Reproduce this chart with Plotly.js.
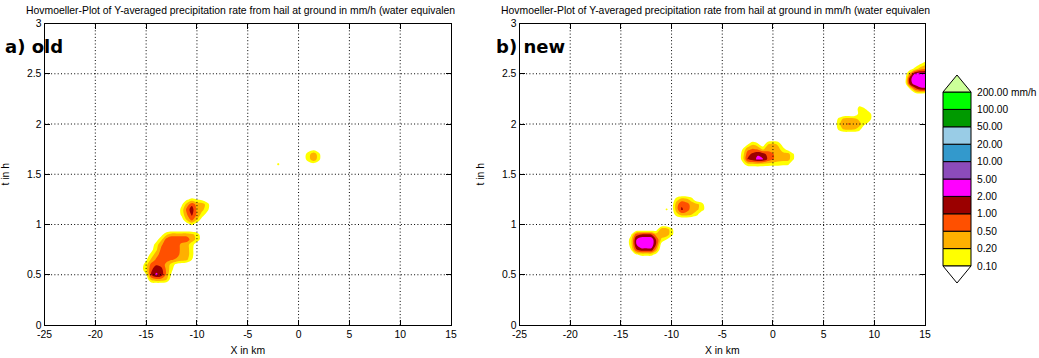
<!DOCTYPE html>
<html><head><meta charset="utf-8">
<script src="https://cdn.plot.ly/plotly-3.0.1.min.js"></script>
<style>html,body{margin:0;padding:0;background:#fff;}#chart{width:1039px;height:358px;}</style>
</head><body><div id="chart"></div>
<script>
// ---------- data ----------
const LEVELS = [0.1, 0.2, 0.5, 1, 2, 5, 10, 20, 50, 100, 200];           // mm/h contour levels
const LEVEL_LABELS = ['0.10','0.20','0.50','1.00','2.00','5.00','10.00','20.00','50.00','100.00','200.00 mm/h'];
const BAND_COLORS = ['#FFFF00','#FFB000','#FF5000','#9B0000','#FF00FF','#8C4BBB','#3399CC','#99CCE6','#009900','#00FF00'];
const UNDER_COLOR = '#FFFFFF';
const OVER_COLOR = '#CCFF99';
const X_TICKS = [-25, -20, -15, -10, -5, 0, 5, 10, 15];
const T_TICKS = [0, 0.5, 1, 1.5, 2, 2.5, 3];
const T_TICK_LABELS = ['0', '0.5', '1', '1.5', '2', '2.5', '3'];
const TITLE_TEXT = 'Hovmoeller-Plot of Y-averaged precipitation rate from hail at ground in mm/h (water equivalen';
const PANEL_LABELS = ['a) old', 'b) new'];

// sparse rows of Y-averaged hail rate (mm/h): time t (h), first x (km), values every 0.5 km
const oldRowT = [1.25, 1.20, 1.15, 1.10, 1.05, 1.00,
  0.90, 0.85, 0.80, 0.75, 0.70, 0.65, 0.60, 0.55, 0.50, 0.45,
  1.75, 1.70, 1.65, 1.60, 1.60];
const oldRowX0 = [-11, -11.5, -11.5, -11.5, -11.5, -11,
  -13.5, -14, -14.5, -14.5, -15, -15, -15.5, -15.5, -15, -14.5,
  1, 0.5, 0.5, 1, -2];
const oldRowVals = [
  [0.08, 0.123, 0.10, 0.07],
  [0.08, 0.289, 0.812, 0.347, 0.316, 0.152],
  [0.132, 0.616, 1.52, 0.38, 0.263, 0.132],
  [0.123, 0.456, 1.15, 0.416, 0.152, 0.05],
  [0.05, 0.24, 0.66, 0.2, 0.05],
  [0.03, 0.115, 0.04],
  [0.06, 0.174, 0.347, 0.347, 0.347, 0.347, 0.263, 0.152, 0.03],
  [0.05, 0.174, 0.66, 0.812, 0.812, 0.812, 0.758, 0.316, 0.162, 0.04],
  [0.03, 0.141, 0.416, 0.812, 0.812, 0.758, 0.38, 0.289, 0.141, 0.03],
  [0.06, 0.174, 0.616, 0.812, 0.812, 0.707, 0.38, 0.316, 0.132],
  [0.03, 0.132, 0.347, 0.707, 0.812, 0.812, 0.66, 0.347, 0.316, 0.132],
  [0.08, 0.24, 0.574, 0.66, 0.616, 0.536, 0.416, 0.316, 0.24, 0.10],
  [0.04, 0.152, 0.66, 0.933, 0.758, 0.38, 0.152, 0.06, 0.03],
  [0.05, 0.162, 0.871, 1.62, 1.32, 0.416, 0.123],
  [0.09, 1.0, 2.40, 1.52, 0.38, 0.08],
  [0.24, 0.347, 0.316, 0.2, 0.03],
  [0.04, 0.05, 0.03],
  [0.05, 0.152, 0.416, 0.123],
  [0.05, 0.152, 0.416, 0.123],
  [0.04, 0.05, 0.03],
  [0.123]
];

const newRowT = [0.95, 0.90, 0.85, 0.80, 0.75, 0.70,
  1.25, 1.20, 1.15, 1.10,
  1.80, 1.75, 1.70, 1.65, 1.60,
  2.20, 2.15, 2.10, 2.05, 2.00, 1.95,
  2.60, 2.55, 2.50, 2.45, 2.40, 2.35, 2.30];
const newRowX0 = [-11.5, -14, -14, -14, -14, -13.5,
  -9.5, -10, -10.5, -9.5,
  -2.5, -3, -3, -3, -3,
  8.5, 8.5, 8.5, 6.5, 6.5, 6.5,
  14.5, 13.5, 13.5, 13.5, 13.5, 13.5, 14];
const newRowVals = [
  [0.05, 0.347, 0.347, 0.132],
  [0.08, 0.707, 1.0, 1.15, 1.0, 0.316, 0.347, 0.347, 0.132],
  [0.152, 1.87, 4.16, 4.16, 4.16, 0.871, 0.174, 0.10],
  [0.152, 1.87, 4.16, 4.16, 4.16, 0.871, 0.05],
  [0.10, 0.871, 1.62, 1.62, 1.62, 0.316],
  [0.08, 0.123, 0.123, 0.123, 0.05],
  [0.152, 0.316, 0.263, 0.141],
  [0.03, 0.347, 0.871, 0.66, 0.347, 0.263, 0.141],
  [0.115, 0.03, 0.347, 1.15, 0.66, 0.347, 0.24, 0.141, 0.03],
  [0.152, 0.316, 0.316, 0.2, 0.123],
  [0.08, 0.174, 0.115, 0.02, 0.187, 0.263, 0.174, 0.03],
  [0.10, 0.38, 0.536, 0.456, 0.174, 0.347, 0.347, 0.289, 0.132, 0.05],
  [0.132, 0.758, 1.23, 1.87, 1.62, 0.707, 0.536, 0.316, 0.289, 0.289, 0.111],
  [0.132, 1.07, 1.52, 2.40, 2.09, 0.871, 0.536, 0.316, 0.289, 0.289, 0.111],
  [0.06, 0.152, 0.162, 0.174, 0.162, 0.152, 0.141, 0.132, 0.123, 0.115],
  [0.06],
  [0.132, 0.115, 0.04],
  [0.123, 0.141, 0.132, 0.03],
  [0.123, 0.263, 0.316, 0.263, 0.174, 0.141, 0.132, 0.03],
  [0.162, 0.416, 0.536, 0.38, 0.289, 0.123, 0.06],
  [0.123, 0.24, 0.263, 0.24, 0.152],
  [0.08, 0.152],
  [0.03, 0.123, 0.289, 0.416],
  [0.316, 2.19, 3.47, 3.47],
  [1.62, 3.47, 4.56, 4.56],
  [1.32, 3.16, 4.16, 4.16],
  [0.10, 0.707, 1.52, 1.74],
  [0.03, 0.08, 0.04]
];

// ---------- helpers ----------
const W = 1039, H = 358;
const px = v => v / W;
const py = v => 1 - v / H;
const GRID_DX = 0.5, GRID_DT = 0.05, X_MIN = -25, X_MAX = 15, T_MIN = 0, T_MAX = 3;

// position of a rate on the (log-spaced) level scale: LEVELS[k] -> k+1
function toIndex(v) {
  if (v <= LEVELS[0]) return v / LEVELS[0];
  for (let k = 0; k < LEVELS.length - 1; k++) {
    if (v <= LEVELS[k + 1]) return (k + 1) + Math.log(v / LEVELS[k]) / Math.log(LEVELS[k + 1] / LEVELS[k]);
  }
  return LEVELS.length;
}

function buildGrid(rowT, rowX0, rowVals) {
  const nx = Math.round((X_MAX - X_MIN) / GRID_DX) + 1;
  const nt = Math.round((T_MAX - T_MIN) / GRID_DT) + 1;
  const xs = [], ts = [];
  for (let i = 0; i < nx; i++) xs.push(X_MIN + i * GRID_DX);
  for (let j = 0; j < nt; j++) ts.push(T_MIN + j * GRID_DT);
  const z = ts.map(() => xs.map(() => 0));
  rowT.forEach((t, r) => {
    const j = Math.round((t - T_MIN) / GRID_DT);
    const i0 = Math.round((rowX0[r] - X_MIN) / GRID_DX);
    rowVals[r].forEach((v, k) => { z[j][i0 + k] = toIndex(v); });
  });
  return { xs, ts, z };
}

// piecewise-constant colour scale: band k (index k..k+1) -> colour
const bandList = [UNDER_COLOR].concat(BAND_COLORS);
const nb = bandList.length;
const colorscale = [];
bandList.forEach((c, k) => { colorscale.push([k / nb, c]); colorscale.push([(k + 1) / nb, c]); });

function contourTrace(g, xa, ya) {
  return {
    type: 'contour', x: g.xs, y: g.ts, z: g.z, xaxis: xa, yaxis: ya,
    autocontour: false,
    contours: { start: 1, end: LEVELS.length, size: 1, coloring: 'fill', showlines: false },
    line: { width: 0 },
    colorscale: colorscale, showscale: false, hoverinfo: 'skip'
  };
}

const gOld = buildGrid(oldRowT, oldRowX0, oldRowVals);
const gNew = buildGrid(newRowT, newRowX0, newRowVals);
const data = [contourTrace(gOld, 'x', 'y'), contourTrace(gNew, 'x2', 'y2')];

// ---------- layout ----------
const FONT = 'Liberation Sans, Arial, sans-serif';
const tickFont = { family: FONT, size: 10.4, color: '#000' };
const yDom = [py(325), py(23.5)];
const panels = [
  { xa: 'x', ya: 'y', dom: [px(44.5), px(451)], titleX: 240, labelX: 3 },
  { xa: 'x2', ya: 'y2', dom: [px(519.5), px(925)], titleX: 715, labelX: 494 }
];

function xAxis(p) {
  return {
    domain: p.dom, range: [X_MIN, X_MAX], anchor: p.ya,
    tickvals: X_TICKS, ticktext: X_TICKS.map(String),
    ticks: 'inside', ticklen: 5, tickcolor: '#000', tickwidth: 1,
    showline: true, linecolor: '#000', linewidth: 1, mirror: 'ticks',
    showgrid: false, zeroline: false, tickfont: tickFont,
    title: { text: 'X in km', font: { family: FONT, size: 10.4, color: '#000' }, standoff: 7 }
  };
}
function yAxis(p) {
  return {
    domain: yDom, range: [T_MIN, T_MAX], anchor: p.xa,
    tickvals: T_TICKS, ticktext: T_TICK_LABELS,
    ticks: 'inside', ticklen: 5, tickcolor: '#000', tickwidth: 1,
    showline: true, linecolor: '#000', linewidth: 1, mirror: 'ticks',
    showgrid: false, zeroline: false, tickfont: tickFont,
    title: { text: 't in h', font: { family: FONT, size: 10.4, color: '#000' }, standoff: 15 }
  };
}

const shapes = [];
const annotations = [];
panels.forEach((p, n) => {
  // dotted grid drawn above the fills
  X_TICKS.slice(1, -1).forEach(xv => shapes.push({
    type: 'line', xref: p.xa, yref: p.ya + ' domain', x0: xv, x1: xv, y0: 0, y1: 1,
    line: { color: '#000', width: 1, dash: '1px,2.3px' }, layer: 'above'
  }));
  T_TICKS.slice(1, -1).forEach(tv => shapes.push({
    type: 'line', xref: p.xa + ' domain', yref: p.ya, x0: 0, x1: 1, y0: tv, y1: tv,
    line: { color: '#000', width: 1, dash: '1px,2.3px' }, layer: 'above'
  }));
  annotations.push({
    xref: 'paper', yref: 'paper', x: px(p.titleX), y: py(10), xanchor: 'center', yanchor: 'middle',
    text: TITLE_TEXT, showarrow: false, font: { family: FONT, size: 10.4, color: '#000' }
  });
  annotations.push({
    xref: 'paper', yref: 'paper', x: px(p.labelX), y: py(46), xanchor: 'left', yanchor: 'middle',
    text: '<b>' + PANEL_LABELS[n] + '</b>', showarrow: false,
    font: { family: 'DejaVu Sans, sans-serif', size: 18, color: '#000' }
  });
});

// colour bar (boxes for each band, arrow ends for under/over)
const CB_X0 = 943, CB_X1 = 971, CB_TOP = 92, CB_BOT = 266, CB_TIP = 17;
const step = (CB_BOT - CB_TOP) / BAND_COLORS.length;
BAND_COLORS.forEach((c, k) => shapes.push({
  type: 'rect', xref: 'paper', yref: 'paper',
  x0: px(CB_X0), x1: px(CB_X1), y0: py(CB_BOT - k * step), y1: py(CB_BOT - (k + 1) * step),
  fillcolor: c, line: { color: '#000', width: 1 }, layer: 'above'
}));
const xm = (CB_X0 + CB_X1) / 2;
shapes.push({
  type: 'path', xref: 'paper', yref: 'paper', fillcolor: OVER_COLOR, line: { color: '#000', width: 1 },
  path: `M ${px(CB_X0)} ${py(CB_TOP)} L ${px(CB_X1)} ${py(CB_TOP)} L ${px(xm)} ${py(CB_TOP - CB_TIP)} Z`
});
shapes.push({
  type: 'path', xref: 'paper', yref: 'paper', fillcolor: UNDER_COLOR, line: { color: '#000', width: 1 },
  path: `M ${px(CB_X0)} ${py(CB_BOT)} L ${px(CB_X1)} ${py(CB_BOT)} L ${px(xm)} ${py(CB_BOT + CB_TIP)} Z`
});
LEVEL_LABELS.forEach((lab, k) => annotations.push({
  xref: 'paper', yref: 'paper', x: px(975), y: py(CB_BOT - k * step), xanchor: 'left', yanchor: 'middle',
  text: lab, showarrow: false, font: { family: FONT, size: 10.2, color: '#000' }
}));

const layout = {
  width: W, height: H, margin: { l: 0, r: 0, t: 0, b: 0 },
  paper_bgcolor: '#fff', plot_bgcolor: '#fff', showlegend: false,
  xaxis: xAxis(panels[0]), yaxis: yAxis(panels[0]),
  xaxis2: xAxis(panels[1]), yaxis2: yAxis(panels[1]),
  shapes: shapes, annotations: annotations
};

Plotly.newPlot('chart', data, layout, { displayModeBar: false, staticPlot: true });
</script></body></html>
